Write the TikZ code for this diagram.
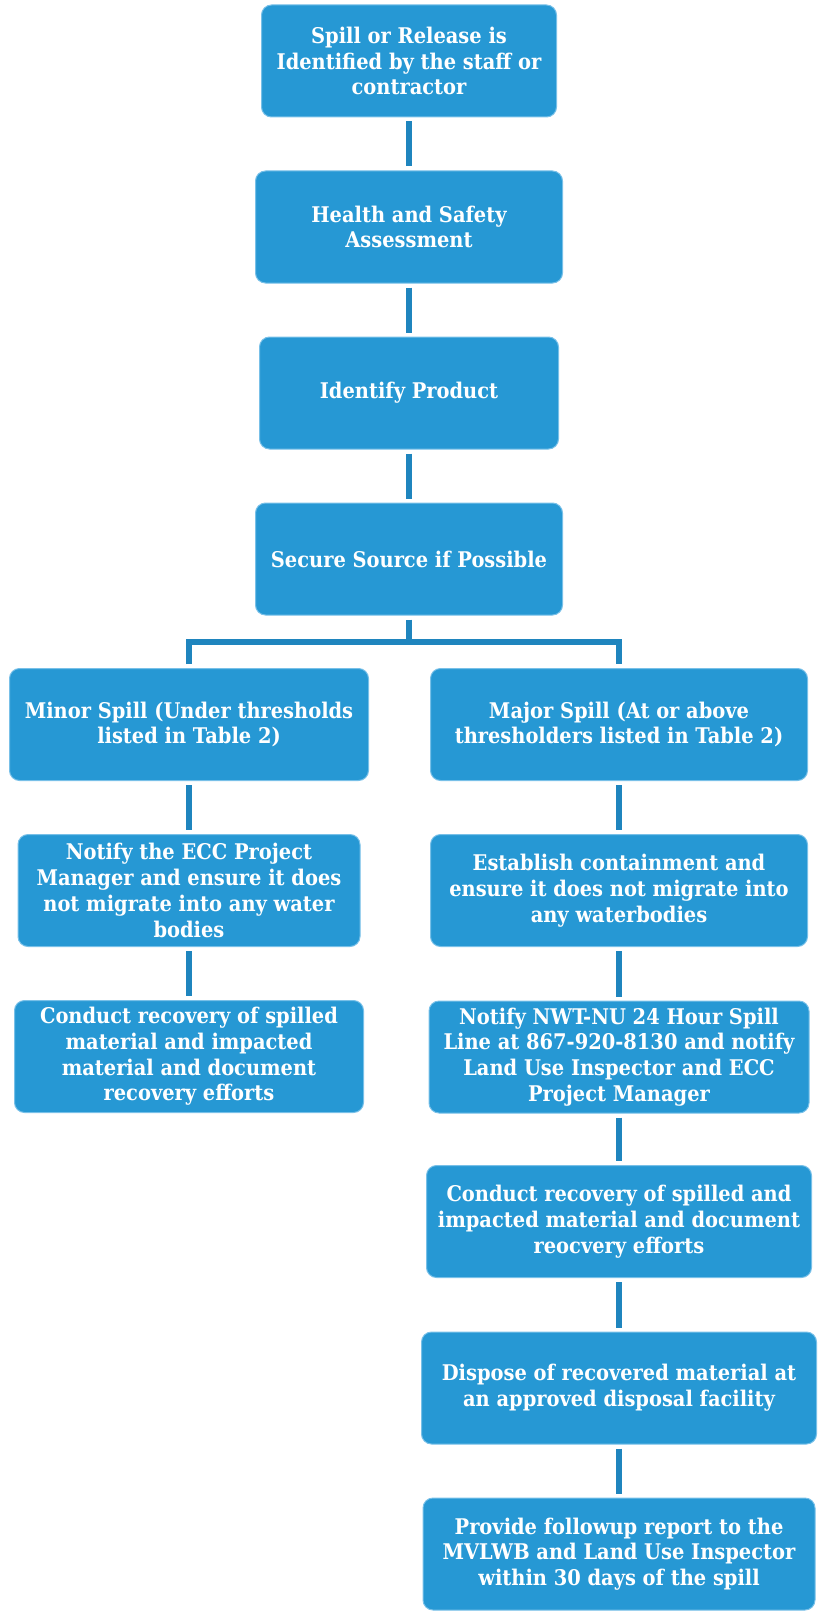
\documentclass[tikz,border=0pt]{standalone}
\usepackage{fontspec}
\setmainfont{DejaVu Serif Condensed}
\definecolor{boxblue}{RGB}{38,152,212}
\definecolor{boxedge}{RGB}{120,192,232}
\definecolor{linkblue}{RGB}{31,133,190}
\tikzset{every picture/.style={line width=0.75pt}}
\tikzset{
  flowbox/.style={draw=boxedge, fill=boxblue, rounded corners=7.5pt, minimum height=84pt,
    inner sep=2pt, align=center, text=white, font=\bfseries\fontsize{16.2}{19.3}\selectfont},
  link/.style={draw=linkblue, line width=4.5pt, shorten <=3pt, shorten >=3pt}
}

\begin{document}
\begin{tikzpicture}[x=0.75pt,y=0.75pt,yscale=-1,xscale=1]
        \useasboundingbox (0,0) rectangle (817,1616);

        %Shape: Rounded Rect [id:spill] 
        \node [flowbox, minimum width=221.25pt] (spill) at (409,61) {Spill or Release is\\Identified by the staff or\\contractor};
        %Shape: Rounded Rect [id:health] 
        \node [flowbox, minimum width=230.25pt] (health) at (409,227) {Health and Safety\\Assessment};
        %Shape: Rounded Rect [id:ident] 
        \node [flowbox, minimum width=224.25pt] (ident) at (409,393) {Identify Product};
        %Shape: Rounded Rect [id:secure] 
        \node [flowbox, minimum width=230.25pt] (secure) at (409,559) {Secure Source if Possible};

        %Shape: Rounded Rect [id:minor] 
        \node [flowbox, minimum width=269.25pt] (minor) at (189,724.5) {Minor Spill (Under thresholds\\listed in Table 2)};
        %Shape: Rounded Rect [id:notifyecc] 
        \node [flowbox, minimum width=256.5pt] (notifyecc) at (189,890.5) {Notify the ECC Project\\Manager and ensure it does\\not migrate into any water\\bodies};
        %Shape: Rounded Rect [id:condl] 
        \node [flowbox, minimum width=261.75pt] (condl) at (189,1056.5) {Conduct recovery of spilled\\material and impacted\\material and document\\recovery efforts};

        %Shape: Rounded Rect [id:major] 
        \node [flowbox, minimum width=282.75pt] (major) at (619,724.5) {Major Spill (At or above\\thresholders listed in Table 2)};
        %Shape: Rounded Rect [id:contain] 
        \node [flowbox, minimum width=282.75pt] (contain) at (619,890.5) {Establish containment and\\ensure it does not migrate into\\any waterbodies};
        %Shape: Rounded Rect [id:notifynwt] 
        \node [flowbox, minimum width=285pt] (notifynwt) at (619,1057) {Notify NWT-NU 24 Hour Spill\\Line at 867-920-8130 and notify\\Land Use Inspector and ECC\\Project Manager};
        %Shape: Rounded Rect [id:condr] 
        \node [flowbox, minimum width=288.75pt] (condr) at (619,1221.5) {Conduct recovery of spilled and\\impacted material and document\\reocvery efforts};
        %Shape: Rounded Rect [id:dispose] 
        \node [flowbox, minimum width=296.25pt] (dispose) at (619,1388) {Dispose of recovered material at\\an approved disposal facility};
        %Shape: Rounded Rect [id:report] 
        \node [flowbox, minimum width=294pt] (report) at (619,1554) {Provide followup report to the\\MVLWB and Land Use Inspector\\within 30 days of the spill};

        %Straight Lines [id:main] 
        \draw [link] (spill) -- (health);
        \draw [link] (health) -- (ident);
        \draw [link] (ident) -- (secure);
        %Elbow Lines [id:split] 
        \coordinate (split) at (409,642);
        \draw [link, shorten >=0pt] (secure) -- (split);
        \draw [link, line join=miter] (minor.north) -- (minor.north |- split) -- (major.north |- split) -- (major.north);
        %Straight Lines [id:left] 
        \draw [link] (minor) -- (notifyecc);
        \draw [link] (notifyecc) -- (condl);
        %Straight Lines [id:right] 
        \draw [link] (major) -- (contain);
        \draw [link] (contain) -- (notifynwt);
        \draw [link] (notifynwt) -- (condr);
        \draw [link] (condr) -- (dispose);
        \draw [link] (dispose) -- (report);

\end{tikzpicture}
\end{document}
